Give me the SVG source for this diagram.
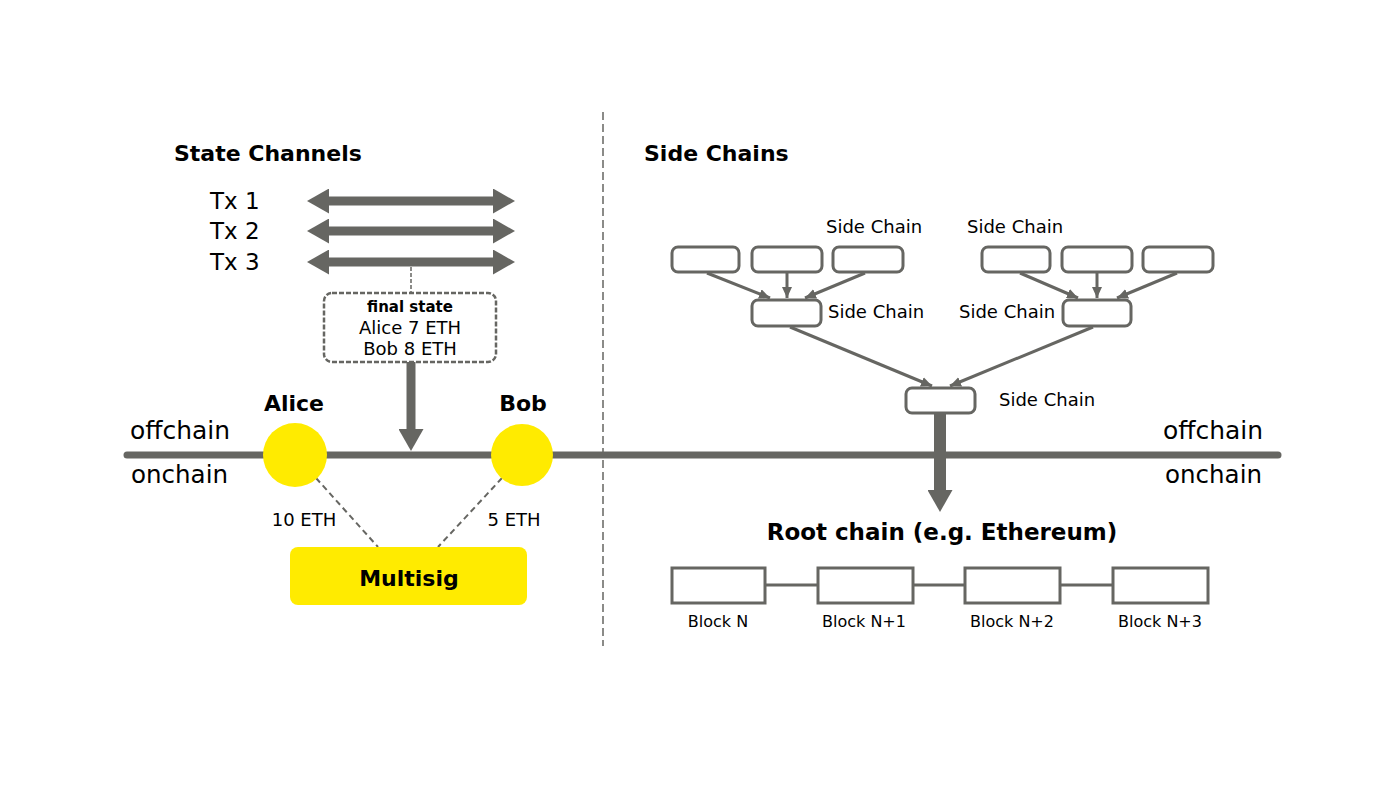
<svg xmlns="http://www.w3.org/2000/svg" width="1400" height="787" viewBox="0 0 1400 787">
<defs>
<style>
text{font-family:"DejaVu Sans","Liberation Sans",sans-serif;fill:#000}
.title{font-size:22px;font-weight:bold}
.big{font-size:23px}
.lbl{font-size:18px}
.blk{font-size:16px}
.thick{stroke:#666662;fill:none}
.thin{stroke:#666662;stroke-width:3;fill:none}
.box{fill:#fff;stroke:#666662;stroke-width:3}
.yel{fill:#FFEB00}
.dash{stroke:#666662;stroke-width:2;stroke-dasharray:6 4;fill:none}
</style>
<marker id="bh" markerUnits="userSpaceOnUse" markerWidth="22" markerHeight="25" viewBox="0 0 22 25" refX="0" refY="12.5" orient="auto-start-reverse">
<path d="M0,0 L22,12.5 L0,25 z" fill="#666662"/>
</marker>
<marker id="sh" markerUnits="userSpaceOnUse" markerWidth="11" markerHeight="10" viewBox="0 0 11 10" refX="11" refY="5" orient="auto">
<path d="M0,0 L11,5 L0,10 z" fill="#666662"/>
</marker>
</defs>
<rect width="1400" height="787" fill="#fff"/>

<g id="titles">
<text class="title" x="174" y="161">State Channels</text>
<text class="title" x="644" y="161">Side Chains</text>
</g>

<g id="connectors">
<line x1="603" y1="112" x2="603" y2="646" stroke="#666662" stroke-width="1.5" stroke-dasharray="8 4"/>
<line x1="127" y1="455" x2="1278" y2="455" class="thick" stroke-width="7" stroke-linecap="round"/>
<line x1="329" y1="201" x2="493" y2="201" class="thick" stroke-width="9" marker-start="url(#bh)" marker-end="url(#bh)"/>
<line x1="329" y1="231" x2="493" y2="231" class="thick" stroke-width="9" marker-start="url(#bh)" marker-end="url(#bh)"/>
<line x1="329" y1="262" x2="493" y2="262" class="thick" stroke-width="9" marker-start="url(#bh)" marker-end="url(#bh)"/>
<line x1="411" y1="267" x2="411" y2="293" stroke="#666662" stroke-width="1.5" stroke-dasharray="4 2"/>
<line x1="411" y1="362" x2="411" y2="429" class="thick" stroke-width="9" marker-end="url(#bh)"/>
<line x1="316" y1="478" x2="378" y2="547" class="dash"/>
<line x1="502" y1="478" x2="438" y2="547" class="dash"/>
<line x1="707" y1="273" x2="770" y2="298" class="thin" marker-end="url(#sh)"/>
<line x1="787" y1="273" x2="787" y2="298" class="thin" marker-end="url(#sh)"/>
<line x1="865" y1="273" x2="805" y2="298" class="thin" marker-end="url(#sh)"/>
<line x1="1020" y1="273" x2="1078" y2="298" class="thin" marker-end="url(#sh)"/>
<line x1="1097" y1="273" x2="1097" y2="298" class="thin" marker-end="url(#sh)"/>
<line x1="1177" y1="273" x2="1117" y2="298" class="thin" marker-end="url(#sh)"/>
<line x1="790" y1="327" x2="932" y2="386" class="thin" marker-end="url(#sh)"/>
<line x1="1093" y1="327" x2="950" y2="386" class="thin" marker-end="url(#sh)"/>
<line x1="940" y1="413" x2="940" y2="490" class="thick" stroke-width="12" marker-end="url(#bh)"/>
<line x1="765" y1="585" x2="818" y2="585" class="thin"/>
<line x1="913" y1="585" x2="965" y2="585" class="thin"/>
<line x1="1060" y1="585" x2="1113" y2="585" class="thin"/>
</g>

<g id="tx-labels">
<text class="big" x="210" y="209">Tx 1</text>
<text class="big" x="210" y="239">Tx 2</text>
<text class="big" x="210" y="270">Tx 3</text>
</g>

<g id="final-state">
<rect x="324" y="293" width="172" height="69" rx="8" fill="#fff" stroke="#666662" stroke-width="2.5" stroke-dasharray="5 2"/>
<text x="410" y="312" text-anchor="middle" font-size="15" font-weight="bold">final state</text>
<text class="lbl" x="410" y="334" text-anchor="middle">Alice 7 ETH</text>
<text class="lbl" x="410" y="355" text-anchor="middle">Bob 8 ETH</text>
</g>

<g id="chain-labels">
<text font-size="24" x="130" y="439" textLength="100" lengthAdjust="spacingAndGlyphs">offchain</text>
<text font-size="24" x="131" y="483" textLength="97" lengthAdjust="spacingAndGlyphs">onchain</text>
<text font-size="24" x="1163" y="439" textLength="100" lengthAdjust="spacingAndGlyphs">offchain</text>
<text font-size="24" x="1165" y="483" textLength="97" lengthAdjust="spacingAndGlyphs">onchain</text>
</g>

<g id="alice">
<circle cx="295" cy="455" r="32" class="yel"/>
<text class="title" x="294" y="411" text-anchor="middle">Alice</text>
<text class="lbl" x="304" y="526" text-anchor="middle">10 ETH</text>
</g>
<g id="bob">
<circle cx="522" cy="455" r="31" class="yel"/>
<text class="title" x="523" y="411" text-anchor="middle">Bob</text>
<text class="lbl" x="514" y="526" text-anchor="middle">5 ETH</text>
</g>
<g id="multisig">
<rect x="290" y="547" width="237" height="58" rx="8" class="yel"/>
<text class="title" x="409" y="586" text-anchor="middle">Multisig</text>
</g>

<g id="sc-top-left">
<rect x="672" y="247" width="67" height="25" rx="6" class="box"/>
<rect x="752" y="247" width="70" height="25" rx="6" class="box"/>
<rect x="833" y="247" width="70" height="25" rx="6" class="box"/>
<text class="lbl" x="826" y="233">Side Chain</text>
</g>
<g id="sc-top-right">
<rect x="982" y="247" width="68" height="25" rx="6" class="box"/>
<rect x="1062" y="247" width="70" height="25" rx="6" class="box"/>
<rect x="1143" y="247" width="70" height="25" rx="6" class="box"/>
<text class="lbl" x="967" y="233">Side Chain</text>
</g>
<g id="sc-mid-left">
<rect x="752" y="300" width="69" height="26" rx="6" class="box"/>
<text class="lbl" x="828" y="318">Side Chain</text>
</g>
<g id="sc-mid-right">
<rect x="1063" y="300" width="68" height="26" rx="6" class="box"/>
<text class="lbl" x="959" y="318">Side Chain</text>
</g>
<g id="sc-bottom">
<rect x="906" y="388" width="69" height="25" rx="6" class="box"/>
<text class="lbl" x="999" y="406">Side Chain</text>
</g>

<g id="root-chain">
<text x="942" y="540" text-anchor="middle" font-size="23" font-weight="bold">Root chain (e.g. Ethereum)</text>
</g>
<g id="block-n">
<rect x="672" y="568" width="93" height="35" class="box"/>
<text class="blk" x="718" y="627" text-anchor="middle">Block N</text>
</g>
<g id="block-n1">
<rect x="818" y="568" width="95" height="35" class="box"/>
<text class="blk" x="864" y="627" text-anchor="middle">Block N+1</text>
</g>
<g id="block-n2">
<rect x="965" y="568" width="95" height="35" class="box"/>
<text class="blk" x="1012" y="627" text-anchor="middle">Block N+2</text>
</g>
<g id="block-n3">
<rect x="1113" y="568" width="95" height="35" class="box"/>
<text class="blk" x="1160" y="627" text-anchor="middle">Block N+3</text>
</g>
</svg>
